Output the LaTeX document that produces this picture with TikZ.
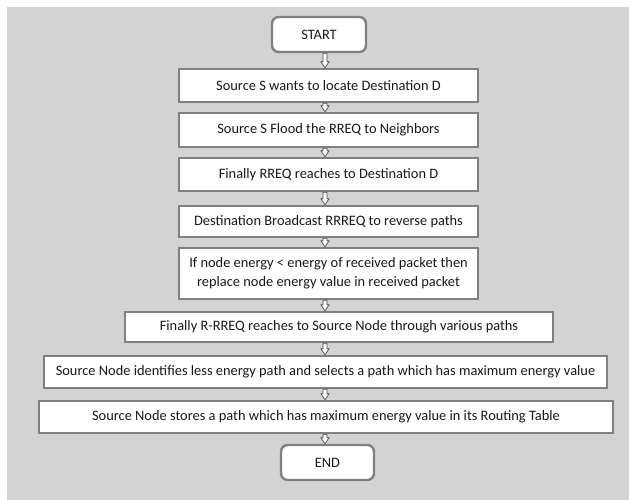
\documentclass[tikz,border=0pt]{standalone}
\usepackage{fontspec}
\setmainfont{Carlito}
\usepackage{tikz}
\usetikzlibrary{calc}

\definecolor{bggray}{RGB}{211,211,211}
\definecolor{edgegray}{RGB}{128,128,128}
\definecolor{txt}{RGB}{25,25,25}

\tikzset{
  box/.style={draw=edgegray, line width=1.8pt, fill=white, text=txt, inner sep=0pt, align=center, font=\fontsize{10.8}{14}\selectfont},
  endbox/.style={box, rounded corners=5pt},
  hollow/.style={draw=black!70, fill=white, line width=0.5pt,
    to path={($(\tikztostart)+(-2,0)$) -- ($(\tikztotarget)+(-2,-6)$) -- ($(\tikztotarget)+(-4,-6)$) -- (\tikztotarget) -- ($(\tikztotarget)+(4,-6)$) -- ($(\tikztotarget)+(2,-6)$) -- ($(\tikztostart)+(2,0)$) -- cycle}}
}

\begin{document}
\begin{tikzpicture}[x=0.75pt,y=0.75pt,yscale=-1,xscale=1]
\useasboundingbox (0,0) rectangle (629,500);

% Background
\fill [bggray] (7,7) rectangle (629,500);
\coordinate (axis) at (325,0);

% Rounded Rect
\node [endbox, minimum width=70.5pt, minimum height=26.25pt] (start) at (319,34.5) {START};
% Rectangles
\node [box, minimum width=224.25pt, minimum height=24.75pt] (b1) at (328.5,85.5) {Source S wants to locate Destination D};
\node [box, minimum width=224.25pt, minimum height=25.5pt] (b2) at (328.5,130) {Source S Flood the RREQ to Neighbors};
\node [box, minimum width=224.25pt, minimum height=24.75pt] (b3) at (328.5,174.5) {Finally RREQ reaches to Destination D};
\node [box, minimum width=224.25pt, minimum height=23.25pt] (b4) at (328.5,221.5) {Destination Broadcast RRREQ to reverse paths};
\node [box, minimum width=224.25pt, minimum height=38.25pt] (b5) at (328.5,273.5) {If node energy {\textless} energy of received packet then\\replace node energy value in received packet};
\node [box, minimum width=321pt, minimum height=22.5pt] (b6) at (339,327) {Finally R-RREQ reaches to Source Node through various paths};
\node [box, minimum width=422.25pt, minimum height=24pt] (b7) at (325.5,372) {Source Node identifies less energy path and selects a path which has maximum energy value};
\node [box, minimum width=430.5pt, minimum height=24pt] (b8) at (326,417) {Source Node stores a path which has maximum energy value in its Routing Table};
% Rounded Rect
\node [endbox, minimum width=69.75pt, minimum height=26.25pt] (end) at (327.5,462.5) {END};

% Block Arrows
\foreach \a/\b in {start/b1,b1/b2,b2/b3,b3/b4,b4/b5,b5/b6,b6/b7,b7/b8,b8/end}
  \draw [hollow] (\a.south -| axis) to (\b.north -| axis);
\end{tikzpicture}
\end{document}
